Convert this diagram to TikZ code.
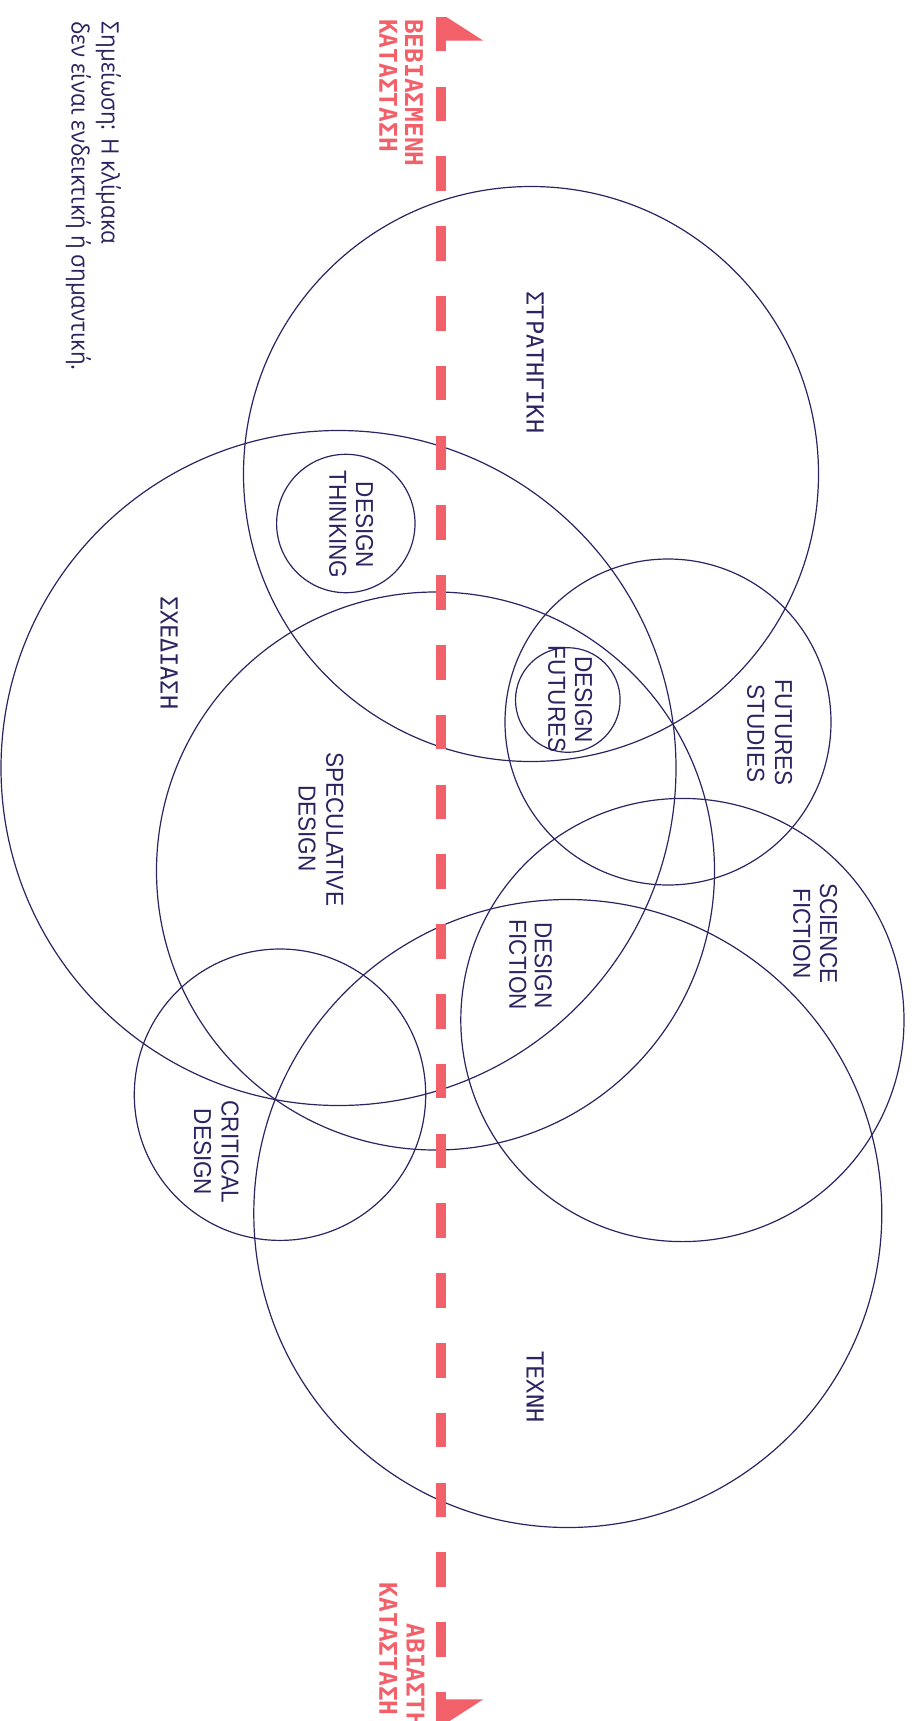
\documentclass[tikz,border=0pt]{standalone}
\usepackage{fontspec}
\setmainfont{Liberation Sans}
\newfontfamily\latinlab[FakeStretch=0.92]{Liberation Sans}
\newfontfamily\greeklab{DejaVu Sans Mono}
\newfontfamily\notefont[FakeStretch=0.93]{Open Sans}
\definecolor{navy}{HTML}{2D2360}
\definecolor{coral}{HTML}{F2616A}
\begin{document}
\begin{tikzpicture}[x=1pt,y=-1pt,
  ring/.style={draw=navy, line width=1.2pt},
  lab/.style={rotate=-90, text=navy, anchor=base, inner sep=0pt,
    font=\latinlab\fontsize{24.5}{27}\selectfont},
  glab/.style={rotate=-90, text=navy, anchor=base, inner sep=0pt,
    font=\greeklab\fontsize{23.5}{27}\selectfont},
  rlab/.style={rotate=-90, text=coral, anchor=base west, inner sep=0pt,
    font=\greeklab\bfseries\fontsize{24.5}{27}\selectfont},
  notelab/.style={rotate=-90, text=navy, anchor=base west, inner sep=0pt,
    font=\notefont\fontsize{24}{30}\selectfont},
  axis/.style={draw=coral, line width=9.3pt, dash pattern=on 34.7pt off 35.1pt},
  tip/.style={fill=coral}]
\useasboundingbox (0,0) rectangle (914,1721);
\clip (0,0) rectangle (914,1721);

% circles
\draw[ring] (531,474) circle (287.5);
\draw[ring] (338.5,768) circle (337.5);
\draw[ring] (435.5,871) circle (279);
\draw[ring] (345.8,523.5) circle (69.2);
\draw[ring] (567.8,700) circle (52.3);
\draw[ring] (668,722) circle (163);
\draw[ring] (682.4,1020) circle (221.6);
\draw[ring] (567.8,1213.5) circle (314);
\draw[ring] (280,1094.7) circle (145.7);

% axis
\coordinate (top) at (441,16.7);
\coordinate (bot) at (441,1770);
\draw[axis] (top) -- (bot);
\fill[tip] (446,16.7) -- (483.3,40.7) -- (446,40.7) -- cycle;
\fill[tip] (446,1699.3) -- (483.3,1699.3) -- (446,1723.3) -- cycle;

% red labels
\node[rlab] (f1) at (405,19) {ΒΕΒΙΑΣΜΕΝΗ};
\node[rlab] (f2) at (379.3,19) {ΚΑΤΑΣΤΑΣΗ};
\node[rlab] (u1) at (406.7,1623.3) {ΑΒΙΑΣΤΗ};
\node[rlab] (u2) at (379.3,1582.7) {ΚΑΤΑΣΤΑΣΗ};

% note
\node[notelab] (n1) at (101.7,21.7) {Σημείωση: Η κλίμακα};
\node[notelab] (n2) at (71.7,21.7) {δεν είναι ενδεικτική ή σημαντική.};

% greek labels
\node[glab] (strat) at (526.7,362.5) {ΣΤΡΑΤΗΓΙΚΗ};
\node[glab] (sxed) at (160.7,652.7) {ΣΧΕΔΙΑΣΗ};
\node[glab] (techni) at (526.7,1387) {ΤΕΧΝΗ};

% latin labels
\node[lab] (dt1) at (356,525) {DESIGN};
\node[lab] (dt2) at (329.3,524.5) {THINKING};
\node[lab] (df1) at (575,699.7) {DESIGN};
\node[lab] (df2) at (548.3,699.2) {FUTURES};
\node[lab] (fs1) at (775,732.8) {FUTURES};
\node[lab] (fs2) at (747.3,733.3) {STUDIES};
\node[lab] (sd1) at (326.3,829.2) {SPECULATIVE};
\node[lab] (sd2) at (298.7,828.2) {DESIGN};
\node[lab] (sf1) at (820,933.3) {SCIENCE};
\node[lab] (sf2) at (793.3,933.3) {FICTION};
\node[lab] (dfi1) at (534.8,965.2) {DESIGN};
\node[lab] (dfi2) at (509.4,964.8) {FICTION};
\node[lab] (cd1) at (221.7,1152) {CRITICAL};
\node[lab] (cd2) at (194,1152) {DESIGN};
\end{tikzpicture}
\end{document}
